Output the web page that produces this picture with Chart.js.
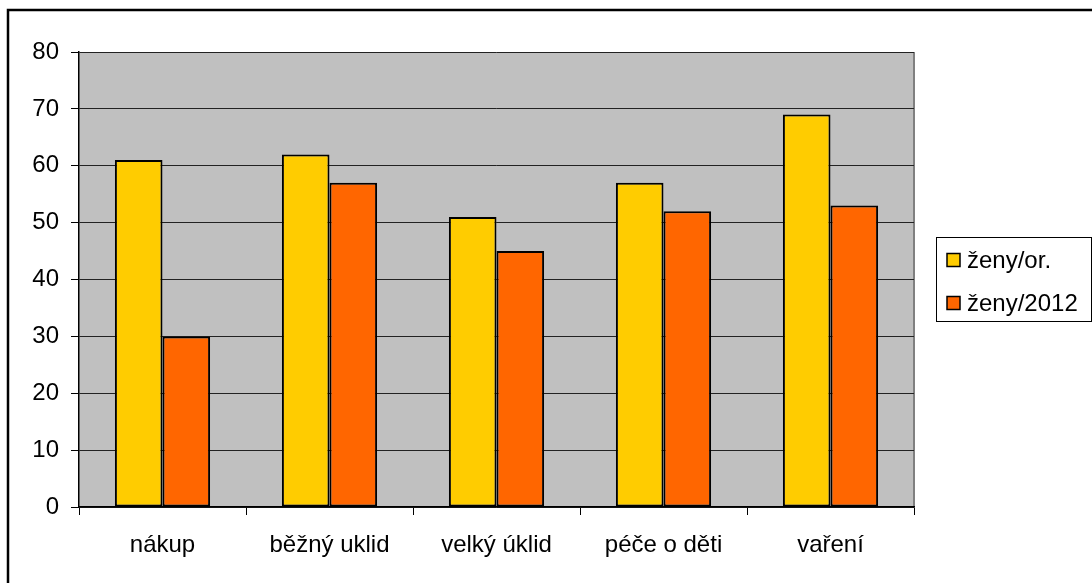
<!DOCTYPE html>
<html>
<head>
<meta charset="utf-8">
<script src="https://cdn.jsdelivr.net/npm/chart.js@4/dist/chart.umd.min.js"></script>
<style>
  html, body { margin: 0; padding: 0; background: #fff; }
  #wrap { width: 1092px; height: 583px; position: relative; }
</style>
</head>
<body>
<div id="wrap"><canvas id="c" width="1092" height="583"></canvas></div>
<script>
// Données
const categories = ['nákup', 'běžný uklid', 'velký úklid', 'péče o děti', 'vaření'];
const seriesNames = ['ženy/or.', 'ženy/2012'];
const zenyOr = [61, 62, 51, 57, 69];
const zeny2012 = [30, 57, 45, 52, 53];
const yTicks = [0, 10, 20, 30, 40, 50, 60, 70, 80];

const COLORS = ['#FFCC00', '#FF6600'];
const FONT = { family: 'Liberation Sans, Arial, sans-serif', size: 24 };

// Fond gris de la zone de tracé + cadre extérieur + légende encadrée
const decor = {
    id: 'decor',
    beforeDraw(chart) {
        const { ctx, chartArea: a } = chart;
        ctx.save();
        ctx.fillStyle = '#C0C0C0';
        ctx.fillRect(a.left, a.top, a.right - a.left, a.bottom - a.top);
        // bord droit gris
        ctx.strokeStyle = '#808080';
        ctx.lineWidth = 2;
        ctx.beginPath();
        ctx.moveTo(a.right, a.top);
        ctx.lineTo(a.right, a.bottom);
        ctx.stroke();
        ctx.restore();
    },
    afterDraw(chart) {
        const { ctx } = chart;
        ctx.save();
        // cadre extérieur
        ctx.strokeStyle = '#000';
        ctx.lineWidth = 2.5;
        ctx.beginPath();
        ctx.moveTo(8, 600);
        ctx.lineTo(8, 10);
        ctx.lineTo(1100, 10);
        ctx.stroke();
        // légende
        ctx.lineWidth = 1;
        ctx.strokeRect(936.5, 237.5, 155, 84);
        ctx.font = '24px ' + FONT.family;
        ctx.textBaseline = 'middle';
        chart.data.datasets.forEach((ds, i) => {
            const y = 260 + i * 43;
            ctx.fillStyle = ds.backgroundColor;
            ctx.fillRect(947, y - 6.5, 13, 13);
            ctx.strokeStyle = '#000';
            ctx.lineWidth = 1.5;
            ctx.strokeRect(947, y - 6.5, 13, 13);
            ctx.fillStyle = '#000';
            ctx.fillText(ds.label, 967, y + 1);
        });
        ctx.restore();
    }
};

new Chart(document.getElementById('c'), {
    type: 'bar',
    data: {
        labels: categories,
        datasets: [
            { label: seriesNames[0], data: zenyOr, backgroundColor: COLORS[0] },
            { label: seriesNames[1], data: zeny2012, backgroundColor: COLORS[1] }
        ].map(d => ({
            ...d,
            borderColor: '#000',
            borderWidth: 2,
            borderSkipped: false,
            categoryPercentage: 0.57,
            barPercentage: 1.0
        }))
    },
    options: {
        responsive: false,
        animation: false,
        layout: { padding: { left: 0, top: 52, right: 178, bottom: 0 } },
        plugins: { legend: { display: false }, tooltip: { enabled: false } },
        scales: {
            x: {
                offset: true,
                grid: { offset: true, drawOnChartArea: false, drawTicks: true, tickLength: 8, color: '#000', lineWidth: 1 },
                border: { display: true, color: '#000', width: 1.5 },
                ticks: { color: '#000', font: FONT, padding: 16, maxRotation: 0, autoSkip: false },
                afterFit(scale) { scale.height = 76; }
            },
            y: {
                min: 0,
                max: 80,
                afterBuildTicks(scale) { scale.ticks = yTicks.map(v => ({ value: v })); },
                grid: { color: '#222', lineWidth: 1, tickLength: 8, tickColor: '#000' },
                border: { display: true, color: '#000', width: 1.5 },
                ticks: { color: '#000', font: FONT, padding: 12 },
                afterFit(scale) { scale.width = 79; }
            }
        }
    },
    plugins: [decor]
});
</script>
</body>
</html>
